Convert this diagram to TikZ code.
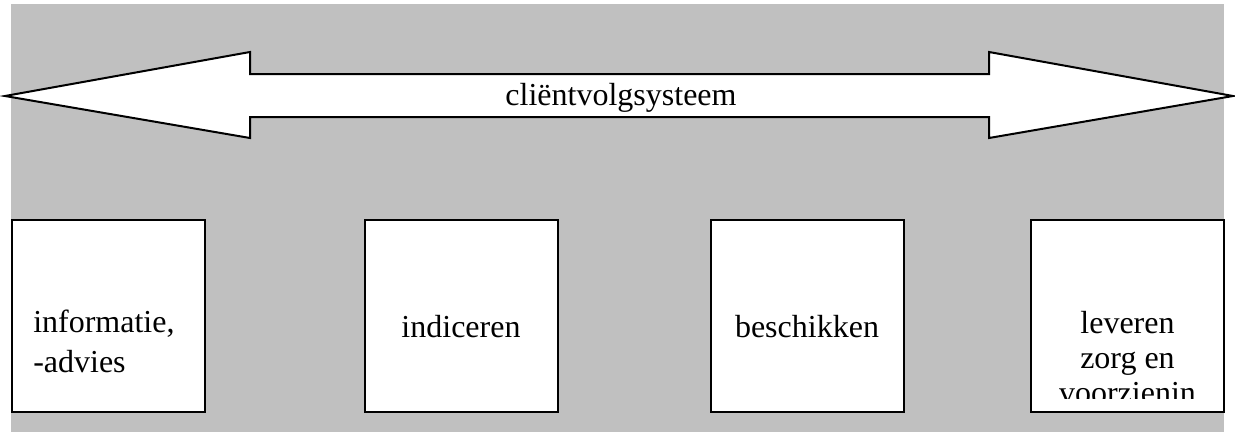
\documentclass[tikz,border=0pt]{standalone}
\usepackage{fontspec}
\setmainfont{Liberation Serif}
\definecolor{panelgray}{RGB}{192,192,192}
\tikzset{
  outline/.style={draw=black, line width=1.5pt, line join=miter},
  stage/.style={outline, fill=white, rectangle, inner sep=0pt,
                minimum width=144.75pt, minimum height=144pt},
  label/.style={inner sep=0pt, font=\fontsize{24}{28}\selectfont},
}
\begin{document}
\begin{tikzpicture}[x=0.75pt, y=-0.75pt]
  \useasboundingbox (0,0) rectangle (1235,432);
  % background panel
  \fill[panelgray] (11,4) rectangle (1224,432);

  % double-headed block arrow
  \draw[outline, fill=white]
    (5,96) -- (250,52) -- (250,74) -- (989,74) -- (989,52) -- (1233,96)
    -- (989,138) -- (989,117) -- (250,117) -- (250,138) -- cycle;
  \node[label, anchor=base] (cvs) at (621,105) {cliëntvolgsysteem};

  % process stages
  \node[stage] (s1) at (108.5,316) {};
  \node[stage] (s2) at (461,316) {};
  \node[stage] (s3) at (807,316) {};
  \node[stage] (s4) at (1127.5,316) {};

  \node[label, anchor=base west] (s1a) at (33,332) {informatie,};
  \node[label, anchor=base west] (s1b) at (33,372) {-advies};

  \node[label, anchor=base] (s2a) at (s2.center |- 0,337) {indiceren};
  \node[label, anchor=base] (s3a) at (s3.center |- 0,337) {beschikken};

  % last stage: text runs past the bottom of its frame and is cut off
  \begin{scope}
    \clip (1031,220) rectangle (1224,398);
    \node[label, anchor=base] (s4a) at (s4.center |- 0,333) {leveren};
    \node[label, anchor=base] (s4b) at (s4.center |- 0,368) {zorg en};
    \node[label, anchor=base] (s4c) at (s4.center |- 0,403) {voorzienin};
  \end{scope}
\end{tikzpicture}
\end{document}
